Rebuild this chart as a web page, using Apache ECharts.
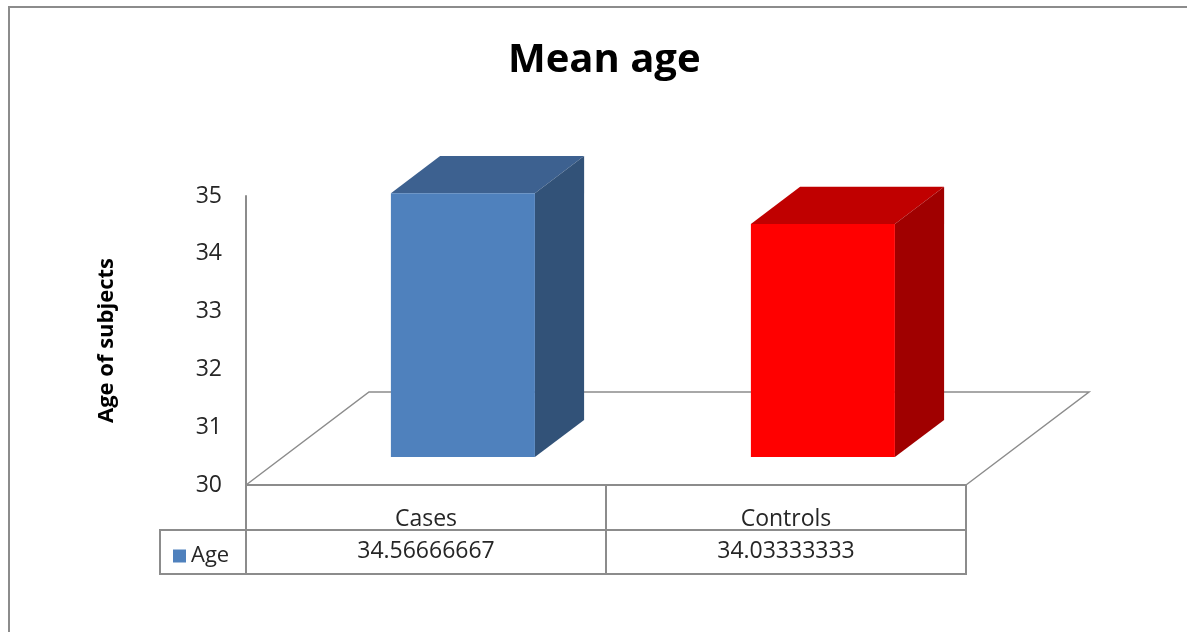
<!DOCTYPE html>
<html>
<head>
<meta charset="utf-8">
<script src="https://cdn.jsdelivr.net/npm/echarts@6/dist/echarts.min.js"></script>
<style>
  html, body { margin: 0; padding: 0; background: #fff; }
  #chart { width: 1187px; height: 632px; }
</style>
</head>
<body>
<div id="chart"></div>
<script>
// data
var categories = ['Cases', 'Controls'];
var ageValues = [34.56666667, 34.03333333];
var valueLabels = ['34.56666667', '34.03333333'];
var yMin = 30, yMax = 35, yStep = 1;

// colours for each box: front, top, side
var faceColors = [
    ['#4f81bd', '#3d6190', '#325278'],
    ['#ff0000', '#c00000', '#a00000']
];

var chart = echarts.init(document.getElementById('chart'));
var FONT = 'Open Sans';
var GRAY = '#8c8c8c';

// depth of the floor (px), bars sit between 30% and 70% of it
var DX = 123, DY = -93;

function renderBox(params, api) {
    var i = params.dataIndex;
    var cs = params.coordSys;
    var base = api.coord([api.value(0), yMin]);
    var top = api.coord([api.value(0), api.value(1)]);
    var band = api.size([1, 0])[0];
    var bw = band * 0.4;
    var ox = DX * 0.3, oy = DY * 0.3;
    var dx = DX * 0.4, dy = DY * 0.4;
    var x0 = base[0] - bw / 2 + ox;
    var by = base[1] + oy, ty = top[1] + oy;
    var c = faceColors[i];
    var kids = [];
    var yb = cs.y + cs.height;

    if (i === 0) {
        // floor outline
        kids.push({
            type: 'polyline',
            shape: { points: [[cs.x, yb], [cs.x + DX, yb + DY], [cs.x + cs.width + DX, yb + DY], [cs.x + cs.width, yb]] },
            style: { stroke: GRAY, lineWidth: 1.5, fill: null }
        });
        // legend cell of the data table
        kids.push({
            type: 'rect',
            shape: { x: cs.x - 86, y: yb + 45, width: 86, height: 44 },
            style: { stroke: GRAY, lineWidth: 2, fill: null }
        });
    }
    // data table cells
    kids.push({
        type: 'rect',
        shape: { x: base[0] - band / 2, y: yb, width: band, height: 89 },
        style: { stroke: GRAY, lineWidth: 2, fill: null }
    });
    kids.push({
        type: 'line',
        shape: { x1: base[0] - band / 2, y1: yb + 45, x2: base[0] + band / 2, y2: yb + 45 },
        style: { stroke: GRAY, lineWidth: 2 }
    });
    // box faces
    kids.push({
        type: 'polygon',
        shape: { points: [[x0, ty], [x0 + bw, ty], [x0 + bw + dx, ty + dy], [x0 + dx, ty + dy]] },
        style: { fill: c[1] }
    });
    kids.push({
        type: 'polygon',
        shape: { points: [[x0 + bw, ty], [x0 + bw + dx, ty + dy], [x0 + bw + dx, by + dy], [x0 + bw, by]] },
        style: { fill: c[2] }
    });
    kids.push({
        type: 'rect',
        shape: { x: x0, y: ty, width: bw, height: by - ty },
        style: { fill: c[0] }
    });
    return { type: 'group', children: kids };
}

var option = {
    animation: false,
    title: {
        text: 'Mean age',
        left: 503,
        top: 36,
        textStyle: { fontFamily: FONT, fontSize: 40, fontWeight: 'bold', color: '#000' }
    },
    legend: {
        data: ['Age'],
        left: 168,
        top: 540,
        icon: 'rect',
        itemWidth: 13,
        itemHeight: 13,
        itemGap: 6,
        itemStyle: { borderWidth: 0 },
        selectedMode: false,
        textStyle: { fontFamily: FONT, fontSize: 22, color: '#262626' }
    },
    graphic: [{
        type: 'rect',
        shape: { x: 9, y: 7, width: 1200, height: 700 },
        style: { stroke: GRAY, lineWidth: 2, fill: null },
        silent: true
    }],
    grid: { left: 246, top: 196, width: 720, height: 289 },
    xAxis: [{
        type: 'category',
        data: categories,
        axisLine: { lineStyle: { color: GRAY, width: 2 } },
        axisTick: { show: false },
        axisLabel: { margin: 23, fontFamily: FONT, fontSize: 23, color: '#262626' },
        splitLine: { show: false }
    }, {
        type: 'category',
        data: valueLabels,
        position: 'bottom',
        offset: 45,
        axisLine: { show: false },
        axisTick: { show: false },
        axisLabel: { margin: 10, fontFamily: FONT, fontSize: 23, color: '#262626' },
        splitLine: { show: false }
    }],
    yAxis: {
        type: 'value',
        min: yMin,
        max: yMax,
        interval: yStep,
        name: 'Age of subjects',
        nameLocation: 'middle',
        nameRotate: 90,
        nameGap: 128,
        nameTextStyle: { fontFamily: FONT, fontSize: 22, fontWeight: 'bold', color: '#000' },
        axisLine: { show: true, lineStyle: { color: GRAY, width: 2 } },
        axisTick: { show: false },
        axisLabel: { margin: 24, fontFamily: FONT, fontSize: 23, color: '#262626' },
        splitLine: { show: false }
    },
    series: [{
        name: 'Age',
        type: 'custom',
        itemStyle: { color: '#4f81bd' },
        silent: true,
        renderItem: renderBox,
        encode: { x: 0, y: 1 },
        data: categories.map(function (c, i) { return [i, ageValues[i]]; })
    }]
};

chart.setOption(option);
</script>
</body>
</html>
